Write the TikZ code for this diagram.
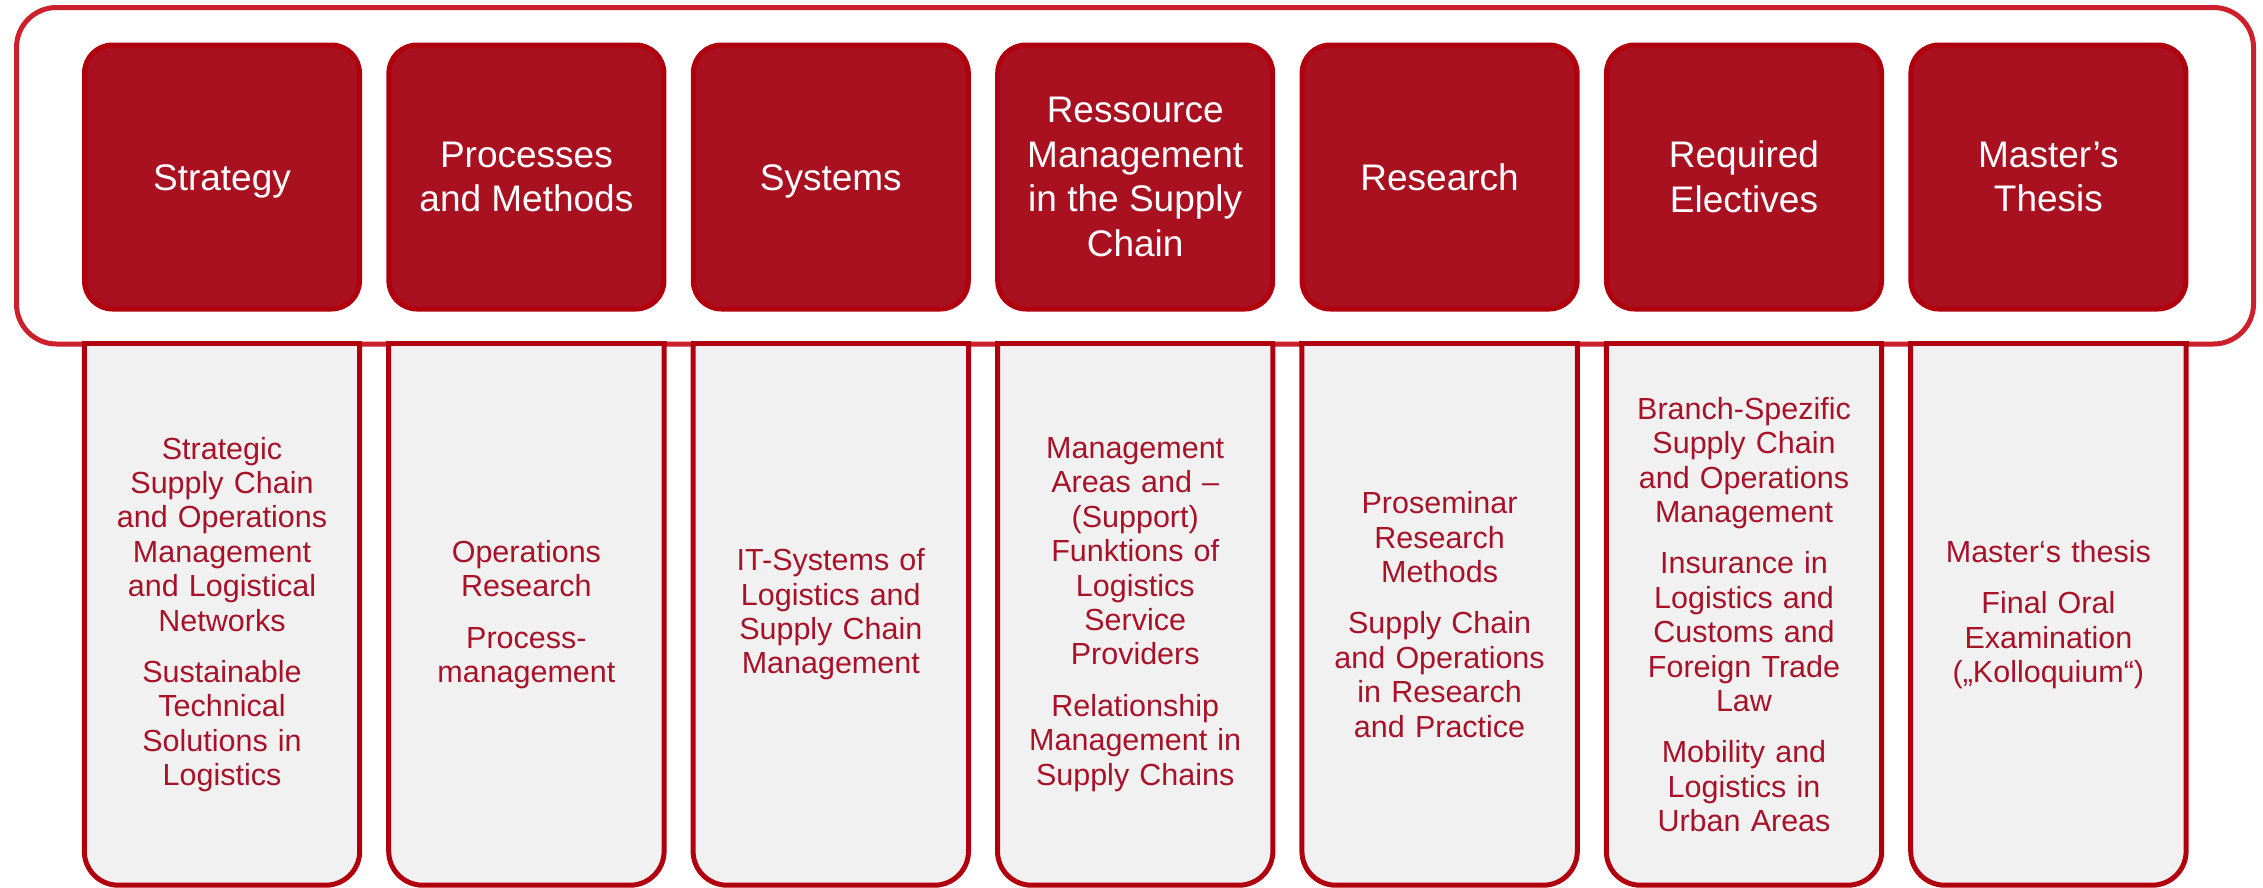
\documentclass[tikz,border=0pt]{standalone}
\usepackage{fontspec}
\setmainfont{Liberation Sans}
\usetikzlibrary{backgrounds}
\definecolor{hdrfill}{RGB}{169,16,32}
\definecolor{hdrline}{RGB}{176,0,14}
\definecolor{frameline}{RGB}{204,32,44}
\definecolor{lowfill}{RGB}{241,241,241}
\definecolor{lowline}{RGB}{176,0,14}
\definecolor{txtred}{RGB}{168,18,40}
\begin{document}
\begin{tikzpicture}[x=1pt,y=-1pt,
  frame/.style={draw=frameline, fill=white, line width=5pt, rounded corners=40pt, minimum width=2237pt, minimum height=336.5pt, inner sep=0pt},
  hdr/.style={draw=hdrline, fill=hdrfill, line width=5pt, rounded corners=28pt, minimum width=275pt, minimum height=264pt, inner sep=0pt, text=white, align=center, font=\fontsize{37}{44.5}\selectfont},
  oneline/.style={text height=26.5pt, text depth=0pt},
  lowbox/.style={minimum width=275pt, minimum height=541pt, inner sep=0pt, text width=268pt, align=center, text=txtred, font=\fontsize{30.5}{34.4}\selectfont},
  lowshape/.style={fill=lowfill, draw=lowline, line width=5pt, rounded corners=34pt},
  lowtop/.style={draw=lowline, line width=5pt, line cap=rect},
]
\useasboundingbox (0,0) rectangle (2263,887);

% header boxes
\node[hdr, oneline] (h1) at (222,177) {Strategy};
\node[hdr] (h2) at (526.4,177) {Processes\\and Methods};
\node[hdr, oneline] (h3) at (830.8,177) {Systems};
\node[hdr] (h4) at (1135.2,177) {Ressource\\Management\\in the Supply\\Chain};
\node[hdr, oneline] (h5) at (1439.6,177) {Research};
\node[hdr] (h6) at (1744,177) {Required\\Electives};
\node[hdr] (h7) at (2048.4,177) {Master’s\\Thesis};

% lower boxes (text)
\node[lowbox] (b1) at (222,614.5) {Strategic\\Supply Chain\\and Operations\\Management\\and Logistical\\Networks\\[17pt]Sustainable\\Technical\\Solutions in\\Logistics};
\node[lowbox] (b2) at (526.4,614.5) {Operations\\Research\\[17pt]Process-\\management};
\node[lowbox] (b3) at (830.8,614.5) {IT-Systems of\\Logistics and\\Supply Chain\\Management};
\node[lowbox] (b4) at (1135.2,614.5) {Management\\Areas and –\\(Support)\\Funktions of\\Logistics\\Service\\Providers\\[17pt]Relationship\\Management in\\Supply Chains};
\node[lowbox] (b5) at (1439.6,614.5) {Proseminar\\Research\\Methods\\[17pt]Supply Chain\\and Operations\\in Research\\and Practice};
\node[lowbox] (b6) at (1744,614.5) {Branch-Spezific\\Supply Chain\\and Operations\\Management\\[17pt]Insurance in\\Logistics and\\Customs and\\Foreign Trade\\Law\\[17pt]Mobility and\\Logistics in\\Urban Areas};
\node[lowbox] (b7) at (2048.4,614.5) {Master‘s thesis\\[17pt]Final Oral\\Examination\\(„Kolloquium“)};

\begin{scope}[on background layer]
  \node[frame] (frame) at (1135,175.75) {};
  \foreach \b in {b1,b2,b3,b4,b5,b6,b7}{
    \filldraw[lowshape] (\b.north west) -- (\b.south west) -- (\b.south east) -- (\b.north east);
    \draw[lowtop] (\b.north west) -- (\b.north east);
  }
\end{scope}
\end{tikzpicture}
\end{document}
